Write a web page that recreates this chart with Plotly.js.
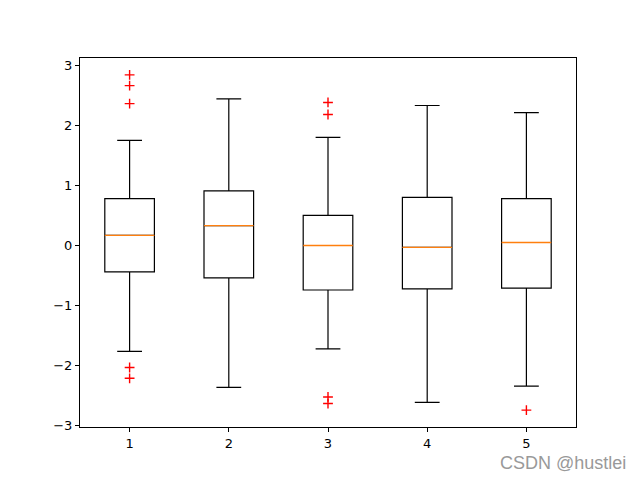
<!DOCTYPE html>
<html>
<head>
<meta charset="utf-8">
<script src="https://cdn.plot.ly/plotly-3.0.1.min.js"></script>
<style>html,body{margin:0;padding:0;background:#fff;}#chart{width:640px;height:480px;}</style>
</head>
<body>
<div id="chart"></div>
<script>
const positions = [1, 2, 3, 4, 5];
const tickLabels = ['1', '2', '3', '4', '5'];
const upperWhisker = [1.75, 2.44, 1.80, 2.33, 2.21];
const q3Values = [0.78, 0.91, 0.50, 0.80, 0.78];
const medians = [0.17, 0.33, 0.00, -0.03, 0.05];
const q1Values = [-0.44, -0.54, -0.74, -0.72, -0.71];
const lowerWhisker = [-1.76, -2.36, -1.72, -2.61, -2.34];
const outlierX = [1, 1, 1, 1, 1, 3, 3, 3, 3, 5];
const outlierY = [2.84, 2.66, 2.36, -2.03, -2.21, 2.38, 2.18, -2.52, -2.63, -2.74];

const boxTrace = {
  type: 'box',
  x: positions,
  q1: q1Values,
  median: medians,
  q3: q3Values,
  lowerfence: lowerWhisker,
  upperfence: upperWhisker,
  width: 0.5,
  whiskerwidth: 0.5,
  line: {color: '#000000', width: 1.2},
  fillcolor: 'rgba(255,255,255,0)',
  boxpoints: false,
  hoverinfo: 'skip',
  showlegend: false
};
const medianTrace = {
  type: 'box',
  x: positions,
  q1: medians,
  median: medians,
  q3: medians,
  lowerfence: medians,
  upperfence: medians,
  width: 0.5,
  whiskerwidth: 0,
  line: {color: '#ff7f0e', width: 1.3},
  fillcolor: 'rgba(255,255,255,0)',
  boxpoints: false,
  hoverinfo: 'skip',
  showlegend: false
};
const outlierTrace = {
  type: 'scatter',
  mode: 'markers',
  x: outlierX,
  y: outlierY,
  marker: {symbol: 'cross-thin-open', size: 7, color: 'red', line: {color: 'red', width: 1.4}},
  hoverinfo: 'skip',
  showlegend: false
};

const layout = {
  width: 640, height: 480,
  margin: {l: 80, r: 64, t: 57.6, b: 52.8},
  paper_bgcolor: '#ffffff', plot_bgcolor: '#ffffff',
  font: {family: 'DejaVu Sans', size: 13, color: '#000000'},
  boxmode: 'overlay',
  showlegend: false,
  xaxis: {
    range: [0.5, 5.5], tickvals: positions, ticktext: tickLabels,
    showgrid: false, zeroline: false, showline: true, mirror: true,
    linecolor: '#000', linewidth: 1, ticks: 'outside', ticklen: 4, tickwidth: 1, tickcolor: '#000',
    tickfont: {size: 13}
  },
  yaxis: {
    range: [-3.02, 3.12], tickvals: [-3, -2, -1, 0, 1, 2, 3],
    ticktext: ['\u22123', '\u22122', '\u22121', '0', '1', '2', '3'],
    showgrid: false, zeroline: false, showline: true, mirror: true,
    linecolor: '#000', linewidth: 1, ticks: 'outside', ticklen: 4, tickwidth: 1, tickcolor: '#000',
    tickfont: {size: 13}
  },
  annotations: [{
    text: 'CSDN @hustlei', xref: 'paper', yref: 'paper', x: 1.105, y: -0.097,
    xanchor: 'right', yanchor: 'middle', showarrow: false,
    font: {family: 'Liberation Sans', size: 18, color: '#999999'}
  }]
};

Plotly.newPlot('chart', [boxTrace, medianTrace, outlierTrace], layout, {staticPlot: true, displayModeBar: false});
</script>
</body>
</html>
